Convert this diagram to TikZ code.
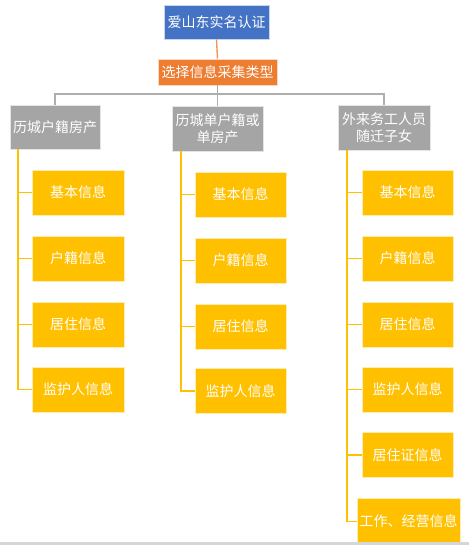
\documentclass[tikz,border=0pt]{standalone}
\usepackage{fontspec}
\newfontfamily\cjk{Noto Sans CJK SC}
\definecolor{cblue}{HTML}{4472C4}
\definecolor{corange}{HTML}{ED7D31}
\definecolor{cgray}{HTML}{A5A5A5}
\definecolor{cyellow}{HTML}{FFC000}
\definecolor{cbar}{HTML}{D6D6D6}
\begin{document}
\begin{tikzpicture}[x=1pt,y=-1pt,
  box/.style={rectangle, inner sep=0pt, text=white, draw=white!70!#1, line width=0.6pt, fill=#1,
    font=\cjk\fontsize{14}{17}\selectfont, align=center},
  yb/.style={box=cyellow, minimum width=91pt, minimum height=45pt},
  gb/.style={box=cgray, minimum width=91pt, minimum height=45pt},
  gl/.style={draw=cgray!90, line width=1.4pt},
  yl/.style={draw=cyellow, line width=1.4pt},
  ol/.style={draw=corange!80, line width=1.4pt}]
\fill[white] (0,0) rectangle (469,545);
\useasboundingbox (0,0) rectangle (469,545);

\node[box=cblue, minimum width=105pt, minimum height=34pt] (top) at (216.5,22) {爱山东实名认证};
\node[box=corange, minimum width=119pt, minimum height=26pt] (ori) at (217.5,72) {选择信息采集类型};

\node[gb, minimum width=90pt, minimum height=44pt] (gL) at (55,127) {历城户籍房产};
\node[gb] (gM) at (217.5,128.5) {历城单户籍或\\单房产};
\node[gb, minimum width=92pt] (gR) at (384,127.5) {外来务工人员\\随迁子女};

\coordinate (bus) at (0,94);
\draw[ol] (top.south) -- (ori.north);
\draw[gl] (ori.south) -- (ori.south |- bus);
\draw[gl] (gL.north) -- (gL.north |- bus) -- (gR.north |- bus) -- (gR.north);
\draw[gl] (gM.north) -- (gM.north |- bus);

% left column
\node[yb, minimum width=92pt] (l1) at (78,192.5) {基本信息};
\node[yb, minimum width=92pt] (l2) at (78,258.5) {户籍信息};
\node[yb, minimum width=92pt] (l3) at (78,324.5) {居住信息};
\node[yb, minimum width=92pt] (l4) at (78,389.5) {监护人信息};
\coordinate (tL) at (18,149);
\draw[yl] (tL) |- (l4.west);
\foreach \n in {l1,l2,l3} \draw[yl] (tL |- \n.west) -- (\n.west);

% middle column
\node[yb] (m1) at (240.5,194.5) {基本信息};
\node[yb] (m2) at (240.5,260.5) {户籍信息};
\node[yb] (m3) at (240.5,326.5) {居住信息};
\node[yb] (m4) at (240.5,391) {监护人信息};
\coordinate (tM) at (181,151);
\draw[yl] (tM) |- (m4.west);
\foreach \n in {m1,m2,m3} \draw[yl] (tM |- \n.west) -- (\n.west);

% right column
\node[yb] (r1) at (407.5,192.5) {基本信息};
\node[yb] (r2) at (407.5,258.5) {户籍信息};
\node[yb] (r3) at (407.5,324.5) {居住信息};
\node[yb] (r4) at (407.5,389.5) {监护人信息};
\node[yb] (r5) at (407.5,455) {居住证信息};
\node[yb, minimum width=103pt, minimum height=47pt] (r6) at (408.5,521.5) {工作、经营信息};
\coordinate (tR) at (347,150);
\draw[yl] (tR) |- (r6.west);
\foreach \n in {r1,r2,r3,r4,r5} \draw[yl] (tR |- \n.west) -- (\n.west);

\fill[cbar] (0,542) rectangle (469,545);
\end{tikzpicture}
\end{document}
